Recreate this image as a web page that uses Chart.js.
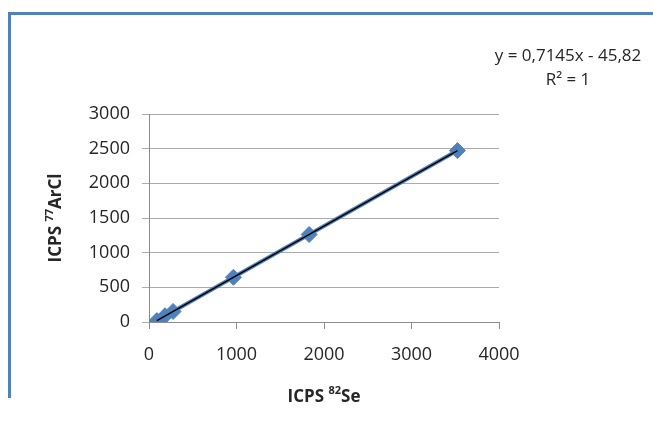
<!DOCTYPE html>
<html>
<head>
<meta charset="utf-8">
<script src="https://cdn.jsdelivr.net/npm/chart.js@4/dist/chart.umd.min.js"></script>
<style>
  html, body { margin: 0; padding: 0; background: #fff; }
  #wrap { position: relative; width: 653px; height: 421px; overflow: hidden; }
  #frame {
    position: absolute; left: 8px; top: 12px; width: 700px; height: 386px;
    border-top: 3px solid #4F81BD; border-left: 3px solid #4F81BD;
    box-sizing: border-box; pointer-events: none;
  }
</style>
</head>
<body>
<div id="wrap">
  <canvas id="chart" width="653" height="421"></canvas>
  <div id="frame"></div>
</div>
<script>
// ── DATOS ──────────────────────────────────────
const icps82Se   = [90, 183, 275, 965, 1830, 3525];   // eje X
const icps77ArCl = [20, 90, 152, 645, 1262, 2472];    // eje Y
const xTicks = [0, 1000, 2000, 3000, 4000];
const yTicks = [0, 500, 1000, 1500, 2000, 2500, 3000];

// línea de tendencia (según la etiqueta del gráfico)
const TREND_SLOPE = 0.7145;
const TREND_INTERCEPT = -45.82;
const TREND_LABEL = ['y = 0,7145x - 45,82', 'R² = 1'];

const FONT = '"Open Sans", "Liberation Sans", sans-serif';
const TXT = '#262626';
const BLUE = '#4F81BD';

const puntos = icps82Se.map((x, i) => ({ x, y: icps77ArCl[i] }));
const xMin = Math.min(...icps82Se), xMax = Math.max(...icps82Se);
const tendencia = [xMin, xMax].map(x => ({ x, y: TREND_SLOPE * x + TREND_INTERCEPT }));

// texto con superíndice (ej: ICPS ⁸²Se)
function medirRico(ctx, partes, size) {
  let w = 0;
  partes.forEach(([t, sup]) => {
    ctx.font = `bold ${sup ? Math.round(size * 0.65) : size}px ${FONT}`;
    w += ctx.measureText(t).width;
  });
  return w;
}
function dibujarRico(ctx, partes, x, y, size) {
  let cx = x;
  partes.forEach(([t, sup]) => {
    ctx.font = `bold ${sup ? Math.round(size * 0.65) : size}px ${FONT}`;
    ctx.fillText(t, cx, sup ? y - size * 0.35 : y);
    cx += ctx.measureText(t).width;
  });
}

const tituloX = [['ICPS ', false], ['82', true], ['Se', false]];
const tituloY = [['ICPS ', false], ['77', true], ['ArCl', false]];

const textosPlugin = {
  id: 'textos',
  afterDraw(chart) {
    const { ctx, chartArea: a } = chart;
    ctx.save();
    ctx.fillStyle = TXT;
    ctx.textBaseline = 'middle';
    ctx.textAlign = 'left';
    const size = 17;

    // título eje X
    let w = medirRico(ctx, tituloX, size);
    dibujarRico(ctx, tituloX, (a.left + a.right) / 2 - w / 2, 397, size);

    // título eje Y (rotado)
    ctx.save();
    ctx.translate(56, (a.top + a.bottom) / 2);
    ctx.rotate(-Math.PI / 2);
    w = medirRico(ctx, tituloY, size);
    dibujarRico(ctx, tituloY, -w / 2, 0, size);
    ctx.restore();

    // ecuación de la tendencia
    ctx.font = `17px ${FONT}`;
    ctx.textAlign = 'center';
    ctx.fillText(TREND_LABEL[0], 568, 56);
    ctx.fillText(TREND_LABEL[1], 568, 80);
    ctx.restore();
  }
};

new Chart(document.getElementById('chart'), {
  type: 'scatter',
  data: {
    datasets: [
      {
        label: 'Tendencia',
        data: tendencia,
        showLine: true,
        borderColor: '#000',
        borderWidth: 1.5,
        pointRadius: 0,
        order: 0
      },
      {
        label: 'ICPS',
        data: puntos,
        showLine: true,
        borderColor: BLUE,
        borderWidth: 4,
        pointStyle: 'rectRot',
        pointRadius: 8,
        pointBackgroundColor: BLUE,
        pointBorderColor: BLUE,
        pointBorderWidth: 1,
        order: 1
      }
    ]
  },
  options: {
    responsive: false,
    animation: false,
    layout: { padding: { top: 114, right: 154, left: 0, bottom: 0 } },
    plugins: { legend: { display: false }, tooltip: { enabled: false } },
    scales: {
      x: {
        type: 'linear',
        min: 0, max: 4000,
        afterBuildTicks: s => { s.ticks = xTicks.map(v => ({ value: v })); },
        afterFit: s => { s.height = 99; },
        grid: { drawOnChartArea: false, drawTicks: true, tickLength: 7, color: '#8C8C8C' },
        border: { color: '#8C8C8C', width: 1 },
        ticks: { color: TXT, font: { family: FONT, size: 18 }, padding: 15, maxRotation: 0,
                 callback: v => String(v) }
      },
      y: {
        type: 'linear',
        min: 0, max: 3000,
        afterBuildTicks: s => { s.ticks = yTicks.map(v => ({ value: v })); },
        afterFit: s => { s.width = 149; },
        grid: { color: '#ABABAB', drawTicks: true, tickLength: 7 },
        border: { color: '#8C8C8C', width: 1 },
        ticks: { color: TXT, font: { family: FONT, size: 18 }, padding: 12,
                 callback: v => String(v) }
      }
    }
  },
  plugins: [textosPlugin]
});
</script>
</body>
</html>
